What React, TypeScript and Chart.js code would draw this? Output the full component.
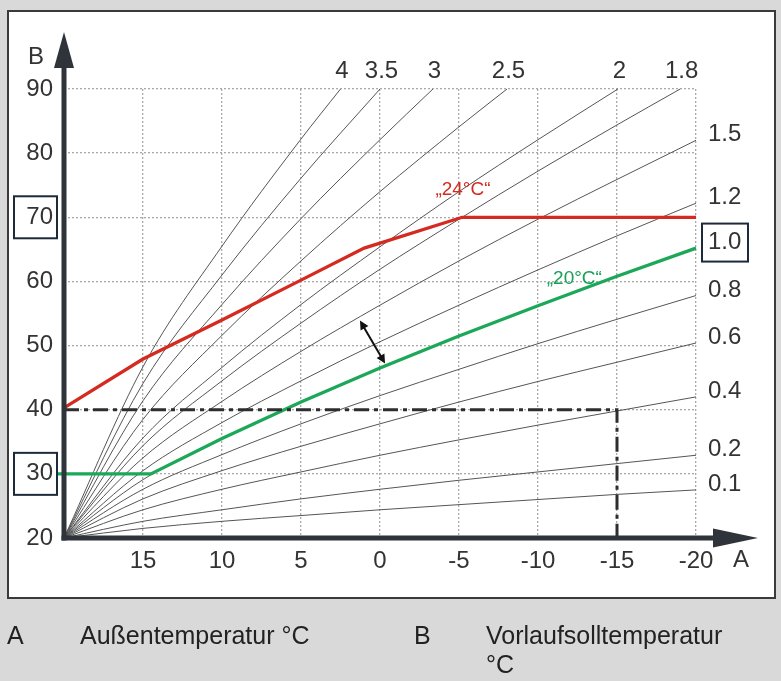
import React, { useEffect, useRef } from 'react';
import { Chart, registerables } from 'chart.js';

Chart.register(...registerables);

const FONT = '"Liberation Sans", Arial, Helvetica, sans-serif';

// Axis ticks
const xTickValues = [20, 15, 10, 5, 0, -5, -10, -15, -20];
const yTickValues = [20, 30, 40, 50, 60, 70, 80, 90];

// Outdoor temperatures at which curve values were read
const outdoorTemps = [20, 15, 10, 5, 0, -5, -10, -15];

// Heating curves (gradient labels), end points and read values
const curveLabels = ['4', '3.5', '3', '2.5', '2', '1.8', '1.5', '1.2', '1.0', '0.8', '0.6', '0.4', '0.2', '0.1'];
const curveEndA = [2.5, 0, -3.35, -8.04, -15.06, -19, -20, -20, -20, -20, -20, -20, -20, -20];
const curveEndB = [90, 90, 90, 90, 90, 90, 82, 72.2, 65.2, 57.8, 50.4, 42, 32.9, 27.5];
const curve40 = [20, 46.7, 65.5, 82.2];
const curve35 = [20, 44.1, 61.0, 76.1];
const curve30 = [20, 41.4, 56.4, 69.8, 82.1];
const curve25 = [20, 38.5, 51.6, 63.2, 74.0, 84.1];
const curve20 = [20, 35.6, 46.6, 56.4, 65.4, 74.0, 82.1];
const curve18 = [20, 34.4, 44.5, 53.5, 61.9, 69.7, 77.2, 84.4];
const curve15 = [20, 32.5, 41.3, 49.1, 56.3, 63.2, 69.7, 75.9];
const curve12 = [20, 30.5, 38.0, 44.5, 50.6, 56.3, 61.8, 67.1];
const curve10 = [20, 29.1, 35.5, 41.2, 46.5, 51.5, 56.2, 60.8];
const curve08 = [20, 27.6, 33.0, 37.8, 42.2, 46.3, 50.3, 54.1];
const curve06 = [20, 26.1, 30.5, 34.3, 37.8, 41.2, 44.4, 47.4];
const curve04 = [20, 24.4, 27.6, 30.3, 32.9, 35.3, 37.6, 39.8];
const curve02 = [20, 22.6, 24.4, 26.1, 27.6, 29.0, 30.3, 31.6];
const curve01 = [20, 21.5, 22.6, 23.5, 24.4, 25.2, 26.0, 26.8];
const curveValues = [curve40, curve35, curve30, curve25, curve20, curve18, curve15, curve12, curve10, curve08, curve06, curve04, curve02, curve01];

// Room set temperature curves
const room24A = [20, 15, 10, 5, 1, -5.2, -20];
const room24B = [40.3, 47.9, 54.0, 60.2, 65.2, 70, 70];
const room20A = [20.4, 14.5, 10, 5, 0, -5, -10, -15, -20];
const room20B = [30, 30, 35.5, 41.2, 46.5, 51.5, 56.2, 60.8, 65.2];

// Design point guide (dash-dot)
const designA = [20, -15, -15];
const designB = [40, 40, 20];

// Double arrow between curves
const arrowA = [1.27, -0.32];
const arrowB = [53.9, 47.2];

const boxedYTicks = [70, 30];
const boxedCurve = '1.0';
const label24 = '\u201E24°C\u201C';
const label20 = '\u201E20°C\u201C';
const label24Pos = [-5.25, 74.3];
const label20Pos = [-12.3, 60.4];

const overlayPlugin = {
  id: 'overlay',
  afterDatasetsDraw(chart: any) {
    const { ctx, chartArea: ca, scales } = chart;
    const x = scales.x;
    const y = scales.y;
    ctx.save();
    const axisColor = '#2f333a';
    const x0 = x.getPixelForValue(20);
    const y0 = y.getPixelForValue(20);

    // y axis with arrow
    ctx.strokeStyle = axisColor;
    ctx.fillStyle = axisColor;
    ctx.lineWidth = 5;
    ctx.beginPath();
    ctx.moveTo(x0, y0 + 2.5);
    ctx.lineTo(x0, ca.top - 25);
    ctx.stroke();
    ctx.beginPath();
    ctx.moveTo(x0, ca.top - 57);
    ctx.lineTo(x0 - 10, ca.top - 21);
    ctx.lineTo(x0 + 10, ca.top - 21);
    ctx.closePath();
    ctx.fill();

    // x axis with arrow
    ctx.beginPath();
    ctx.moveTo(x0 - 2.5, y0);
    ctx.lineTo(ca.right + 20, y0);
    ctx.stroke();
    ctx.beginPath();
    ctx.moveTo(ca.right + 62, y0);
    ctx.lineTo(ca.right + 17, y0 - 9.5);
    ctx.lineTo(ca.right + 17, y0 + 9.5);
    ctx.closePath();
    ctx.fill();

    // axis letters
    ctx.fillStyle = '#333';
    ctx.font = `24px ${FONT}`;
    ctx.textAlign = 'center';
    ctx.textBaseline = 'middle';
    ctx.fillText('B', x0 - 28, ca.top - 32);
    ctx.fillText('A', ca.right + 45, y0 + 22);

    // boxes around y ticks
    ctx.strokeStyle = '#1d2a3a';
    ctx.lineWidth = 2;
    boxedYTicks.forEach((v) => {
      const py = y.getPixelForValue(v);
      ctx.strokeRect(x0 - 50, py - 21, 43, 42);
    });

    // curve labels
    ctx.fillStyle = '#333';
    ctx.font = `24px ${FONT}`;
    curveLabels.forEach((lab, i) => {
      if (curveEndB[i] >= 90) {
        ctx.textAlign = 'center';
        ctx.fillText(lab, x.getPixelForValue(curveEndA[i]) + 1.5, ca.top - 17.5);
      } else {
        ctx.textAlign = 'left';
        const py = y.getPixelForValue(curveEndB[i]) - 5.5;
        ctx.fillText(lab, ca.right + 12, py);
        if (lab === boxedCurve) {
          ctx.strokeRect(ca.right + 6, py - 19, 46, 38);
        }
      }
    });

    // room temperature labels
    ctx.font = `19px ${FONT}`;
    ctx.textAlign = 'center';
    ctx.fillStyle = '#d42a20';
    ctx.fillText(label24, x.getPixelForValue(label24Pos[0]), y.getPixelForValue(label24Pos[1]));
    ctx.fillStyle = '#17a057';
    ctx.fillText(label20, x.getPixelForValue(label20Pos[0]), y.getPixelForValue(label20Pos[1]));

    // double arrow
    const p1 = [x.getPixelForValue(arrowA[0]), y.getPixelForValue(arrowB[0])];
    const p2 = [x.getPixelForValue(arrowA[1]), y.getPixelForValue(arrowB[1])];
    const dx = p2[0] - p1[0];
    const dy = p2[1] - p1[1];
    const len = Math.hypot(dx, dy);
    const ux = dx / len;
    const uy = dy / len;
    const hl = 9;
    const hw = 4.5;
    ctx.strokeStyle = '#111';
    ctx.fillStyle = '#111';
    ctx.lineWidth = 2;
    ctx.beginPath();
    ctx.moveTo(p1[0] + ux * hl * 0.8, p1[1] + uy * hl * 0.8);
    ctx.lineTo(p2[0] - ux * hl * 0.8, p2[1] - uy * hl * 0.8);
    ctx.stroke();
    const head = (tx: number, ty: number, dirx: number, diry: number) => {
      ctx.beginPath();
      ctx.moveTo(tx, ty);
      ctx.lineTo(tx - dirx * hl - diry * hw, ty - diry * hl + dirx * hw);
      ctx.lineTo(tx - dirx * hl + diry * hw, ty - diry * hl - dirx * hw);
      ctx.closePath();
      ctx.fill();
    };
    head(p2[0], p2[1], ux, uy);
    head(p1[0], p1[1], -ux, -uy);
    ctx.restore();
  },
};

export default function App() {
  const canvasRef = useRef<HTMLCanvasElement | null>(null);

  useEffect(() => {
    const canvas = canvasRef.current;
    if (!canvas) return;

    const curveSets = curveLabels.map((lab, i) => {
      const pts = curveValues[i].map((b, j) => ({ x: outdoorTemps[j], y: b }));
      pts.push({ x: curveEndA[i], y: curveEndB[i] });
      return {
        label: 'Heizkurve ' + lab,
        data: pts,
        borderColor: '#555555',
        borderWidth: 1,
        pointRadius: 0,
        cubicInterpolationMode: 'monotone' as const,
        clip: false as any,
        order: 10,
      };
    });

    const chart = new Chart(canvas, {
      type: 'line',
      data: {
        datasets: [
          ...curveSets,
          {
            label: '20°C',
            data: room20A.map((a, i) => ({ x: a, y: room20B[i] })),
            borderColor: '#1da758',
            borderWidth: 3.3,
            pointRadius: 0,
            tension: 0,
            clip: false as any,
            order: 3,
          },
          {
            label: '24°C',
            data: room24A.map((a, i) => ({ x: a, y: room24B[i] })),
            borderColor: '#d42a20',
            borderWidth: 3.3,
            pointRadius: 0,
            tension: 0,
            clip: false as any,
            order: 2,
          },
          {
            label: 'Auslegung',
            data: designA.map((a, i) => ({ x: a, y: designB[i] })),
            borderColor: '#2e2e2e',
            borderWidth: 3,
            borderDash: [15, 5, 4, 5],
            pointRadius: 0,
            tension: 0,
            clip: false as any,
            order: 1,
          },
        ],
      },
      options: {
        animation: false,
        responsive: false,
        devicePixelRatio: window.devicePixelRatio || 1,
        layout: { padding: { left: 14, right: 85, top: 89, bottom: 103 } },
        plugins: { legend: { display: false }, tooltip: { enabled: false } },
        scales: {
          x: {
            type: 'linear',
            min: -20,
            max: 20,
            reverse: true,
            afterFit: (s: any) => { s.height = 40; },
            afterBuildTicks: (s: any) => { s.ticks = xTickValues.map((v) => ({ value: v })); },
            ticks: {
              autoSkip: false,
              maxRotation: 0,
              padding: 9,
              color: '#333',
              font: { family: FONT, size: 24 },
              callback: (v: any) => (v === 20 ? '' : String(v)),
            },
            grid: { color: '#aaaaaa', lineWidth: 1.3, drawTicks: false },
            border: { display: false, dash: [2, 2] },
          },
          y: {
            type: 'linear',
            min: 20,
            max: 90,
            afterFit: (s: any) => { s.width = 50; },
            afterBuildTicks: (s: any) => { s.ticks = yTickValues.map((v) => ({ value: v })); },
            ticks: {
              autoSkip: false,
              padding: 11,
              color: '#333',
              font: { family: FONT, size: 24 },
              callback: (v: any) => String(v),
            },
            grid: { color: '#aaaaaa', lineWidth: 1.3, drawTicks: false },
            border: { display: false, dash: [2, 2] },
          },
        },
      } as any,
      plugins: [overlayPlugin],
    });

    return () => chart.destroy();
  }, []);

  const legendStyle: React.CSSProperties = {
    position: 'absolute',
    fontFamily: FONT,
    fontSize: 25,
    lineHeight: '29px',
    color: '#222',
    whiteSpace: 'nowrap',
  };

  return (
    <div style={{ position: 'absolute', left: 0, top: 0, width: 781, height: 681, background: '#d9d9d9', overflow: 'hidden' }}>
      <div
        style={{
          position: 'absolute',
          left: 7,
          top: 10,
          width: 769,
          height: 589,
          background: '#fff',
          border: '2px solid #3a3a3a',
          boxSizing: 'border-box',
        }}
      />
      <canvas
        ref={canvasRef}
        width={781}
        height={681}
        style={{ position: 'absolute', left: 0, top: 0, width: 781, height: 681 }}
      />
      <div style={{ ...legendStyle, left: 7, top: 621 }}>A</div>
      <div style={{ ...legendStyle, left: 80, top: 621 }}>Außentemperatur °C</div>
      <div style={{ ...legendStyle, left: 414, top: 621 }}>B</div>
      <div style={{ ...legendStyle, left: 486, top: 621 }}>
        Vorlaufsolltemperatur
        <br />
        °C
      </div>
    </div>
  );
}
